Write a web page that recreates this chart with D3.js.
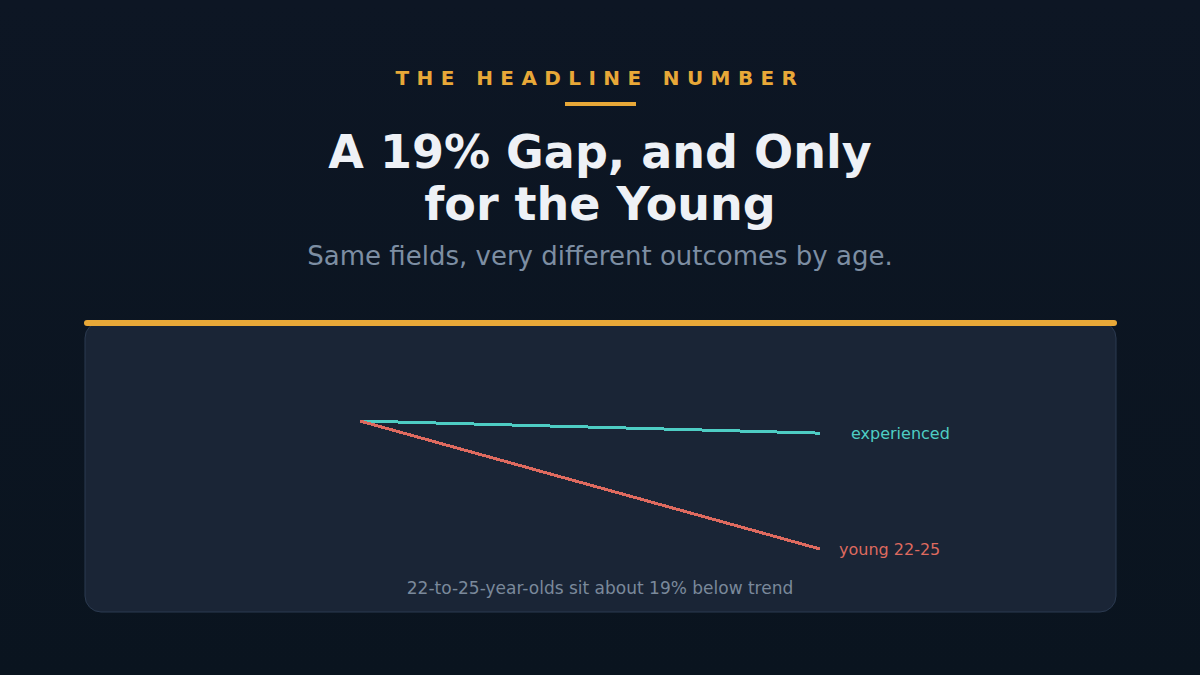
<!DOCTYPE html>
<html>
<head>
<meta charset="utf-8">
<script src="https://cdn.jsdelivr.net/npm/d3@7"></script>
<style>
  html, body { margin: 0; padding: 0; background: #0b1521; }
  svg { display: block; font-family: "DejaVu Sans", sans-serif; }
</style>
</head>
<body>
<svg id="chart"></svg>
<script>
var width = 1200;
var height = 675;

// data (index, start = 100)
var periods = ["start", "end"];
var experienced = [100, 98.2];
var young = [100, 81];
var seriesNames = ["experienced", "young 22-25"];
var caption = "22-to-25-year-olds sit about 19% below trend";

var svg = d3.select("#chart")
    .attr("width", width)
    .attr("height", height);

var defs = svg.append("defs");
var bg = defs.append("linearGradient")
    .attr("id", "bg")
    .attr("x1", 0).attr("y1", 0)
    .attr("x2", 0).attr("y2", 1);
bg.append("stop").attr("offset", "0%").attr("stop-color", "#0d1624");
bg.append("stop").attr("offset", "100%").attr("stop-color", "#0a141f");

svg.append("rect")
    .attr("width", width)
    .attr("height", height)
    .attr("fill", "url(#bg)");

// header
svg.append("text")
    .attr("x", width / 2)
    .attr("y", 85)
    .attr("text-anchor", "middle")
    .style("font-size", "20px")
    .style("font-weight", "bold")
    .style("letter-spacing", "7.4px")
    .style("fill", "#e8a838")
    .text("THE HEADLINE NUMBER");

svg.append("rect")
    .attr("x", 565)
    .attr("y", 102)
    .attr("width", 71)
    .attr("height", 4)
    .attr("fill", "#e8a838");

var titleLines = ["A 19% Gap, and Only", "for the Young"];
svg.selectAll(".title")
    .data(titleLines)
    .enter()
    .append("text")
    .attr("class", "title")
    .attr("x", width / 2)
    .attr("y", function (d, i) { return 168 + i * 52; })
    .attr("text-anchor", "middle")
    .style("font-size", "46px")
    .style("font-weight", "bold")
    .style("fill", "#eef1f6")
    .text(function (d) { return d; });

svg.append("text")
    .attr("x", width / 2)
    .attr("y", 265)
    .attr("text-anchor", "middle")
    .style("font-size", "26px")
    .style("fill", "#7d8ea3")
    .text("Same fields, very different outcomes by age.");

// card
var card = { x: 85, y: 322, w: 1031, h: 290 };
svg.append("rect")
    .attr("x", card.x)
    .attr("y", card.y)
    .attr("width", card.w)
    .attr("height", card.h)
    .attr("rx", 16)
    .attr("fill", "#1a2536")
    .attr("stroke", "#2b3a50")
    .attr("stroke-width", 1);

svg.append("rect")
    .attr("x", card.x - 1)
    .attr("y", 320)
    .attr("width", card.w + 2)
    .attr("height", 6)
    .attr("rx", 3)
    .attr("fill", "#e8a838");

// chart
var x = d3.scalePoint()
    .domain(periods)
    .range([360, 820]);

var y = d3.scaleLinear()
    .domain([81, 100])
    .range([549, 421]);

var series = [
    { name: seriesNames[0], values: experienced, color: "#4ecdc4", dx: 31 },
    { name: seriesNames[1], values: young, color: "#de6a5f", dx: 19 }
];

var line = d3.line()
    .x(function (d, i) { return x(periods[i]); })
    .y(function (d) { return y(d); });

svg.selectAll(".series")
    .data(series)
    .enter()
    .append("path")
    .attr("class", "series")
    .attr("d", function (d) { return line(d.values); })
    .attr("fill", "none")
    .attr("stroke", function (d) { return d.color; })
    .attr("stroke-width", 3)
    .style("shape-rendering", "crispEdges");

svg.selectAll(".label")
    .data(series)
    .enter()
    .append("text")
    .attr("class", "label")
    .attr("x", function (d) { return x(periods[periods.length - 1]) + d.dx; })
    .attr("y", function (d) { return y(d.values[d.values.length - 1]) + 6; })
    .style("font-size", "16px")
    .style("fill", function (d) { return d.color; })
    .text(function (d) { return d.name; });

svg.append("text")
    .attr("x", width / 2)
    .attr("y", 594)
    .attr("text-anchor", "middle")
    .style("font-size", "17px")
    .style("fill", "#7a899b")
    .text(caption);
</script>
</body>
</html>
